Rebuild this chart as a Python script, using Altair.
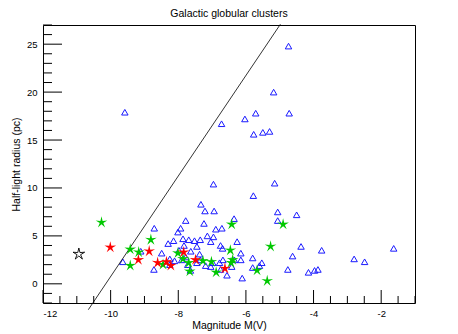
import altair as alt
import pandas as pd

# Blue open triangles (all clusters)
tri_x = [-9.58, -6.72, -4.74, -5.18, -5.71, -4.72, -6.03, -5.77, -5.50, -5.30,
         -6.96, -5.15, -5.78, -7.33, -7.21, -6.94, -7.78, -7.24, -6.35, -8.71,
         -8.01, -6.89, -6.71, -7.93, -7.14, -6.96, -8.14, -7.86, -7.69, -7.52,
         -7.35, -7.04, -6.26, -8.30, -6.75, -8.49, -9.11, -6.15, -5.80, -9.64,
         -8.72, -5.80, -6.56, -6.11, -5.06, -4.50, -5.06, -4.37, -3.76, -1.63,
         -4.62, -2.80, -2.49, -6.15, -6.34, -5.53, -5.60, -4.76, -4.15, -3.97,
         -3.87, -7.83, -7.45, -7.98, -7.63, -6.69, -7.37, -8.25, -8.11, -7.90,
         -7.78, -7.35, -6.68, -6.78, -7.19, -7.04, -6.42, -6.98, -6.75, -7.64,
         -7.45, -7.72, -8.25]
tri_y = [17.9, 16.7, 24.8, 20.0, 17.8, 17.8, 17.2, 15.6, 15.8, 15.9,
         10.4, 10.5, 9.2, 8.3, 7.6, 7.6, 6.6, 6.3, 6.8, 5.8,
         5.4, 5.7, 5.8, 5.8, 5.0, 4.9, 4.5, 4.7, 4.6, 4.5,
         4.6, 4.4, 4.4, 4.2, 4.0, 3.2, 3.4, 3.2, 2.7, 2.3,
         1.5, 1.7, 0.9, 0.6, 7.5, 7.2, 6.6, 3.9, 3.5, 3.7,
         2.9, 2.6, 2.3, 2.5, 2.5, 2.2, 1.9, 1.5, 1.2, 1.4,
         1.5, 4.0, 3.9, 3.5, 3.4, 3.7, 3.1, 2.6, 2.4, 2.5,
         2.8, 2.5, 2.5, 2.2, 1.9, 1.8, 1.8, 2.2, 1.5, 1.4,
         2.2, 2.0, 2.0]

# Red stars
red_x = [-10.01, -9.18, -8.86, -8.61, -8.35, -8.22, -7.84, -7.49, -6.62]
red_y = [3.8, 2.5, 3.4, 2.2, 2.3, 1.9, 3.3, 2.5, 1.6]

# Green stars
green_x = [-10.27, -6.42, -8.81, -9.42, -9.17, -9.42, -8.45, -7.66, -6.88, -6.46,
           -5.67, -4.90, -5.27, -6.44, -5.37, -8.01, -7.86, -7.69, -7.27, -7.02,
           -6.39]
green_y = [6.4, 6.2, 4.6, 3.6, 3.3, 1.9, 2.0, 1.3, 1.2, 3.5,
           1.4, 6.2, 3.9, 2.2, 0.3, 3.2, 2.6, 2.2, 2.4, 2.3,
           2.5]

# Black star
black_x = [-10.94]
black_y = [3.1]

# Diagonal line
line_x = [-10.66, -4.98]
line_y = [-2.7, 27.08]

# Tick values
x_major = [-12, -10, -8, -6, -4, -2]
x_minor = [v / 2 for v in range(-23, -1) if v % 4 != 0]
y_major = [0, 5, 10, 15, 20, 25]
y_minor = [v for v in range(-2, 28) if v % 5 != 0]

FONT = "Liberation Sans"
W, H = 372, 278

xs = alt.Scale(domain=[-12, -1], nice=False, zero=False)
ys = alt.Scale(domain=[-2, 27], nice=False, zero=False)

xaxis = alt.Axis(values=x_major, labelExpr="'' + datum.value", ticks=False, domain=False,
                 grid=False, labelFont=FONT, labelFontSize=9.5, labelColor="black",
                 labelPadding=5, labelFlush=True, title="Magnitude M(V)", titleFont=FONT,
                 titleFontSize=10.5, titleFontWeight="normal", titleColor="black",
                 titlePadding=3)
yaxis = alt.Axis(values=y_major, labelExpr="'' + datum.value", ticks=False, domain=False,
                 grid=False, labelFont=FONT, labelFontSize=9.5, labelColor="black",
                 labelPadding=6, title="Half-light radius (pc)", titleFont=FONT,
                 titleFontSize=10.5, titleFontWeight="normal", titleColor="black",
                 titlePadding=5)

star = ("M0,-1L0.18,-0.25L0.951,-0.309L0.29,0.095L0.588,0.809L0,0.31"
        "L-0.588,0.809L-0.29,0.095L-0.951,-0.309L-0.18,-0.25Z")

X = alt.X("x:Q", scale=xs, axis=xaxis)
Y = alt.Y("y:Q", scale=ys, axis=yaxis)

tri = alt.Chart(pd.DataFrame({"x": tri_x, "y": tri_y})).mark_point(
    shape="triangle-up", filled=False, color="#1a1aff", size=42, strokeWidth=1, opacity=1
).encode(x=X, y=Y)

def stars(xv, yv, color, filled):
    return alt.Chart(pd.DataFrame({"x": xv, "y": yv})).mark_point(
        shape=star, filled=filled, color=color, size=150, strokeWidth=0.6 if filled else 0.9,
        opacity=1, clip=False
    ).encode(x=X, y=Y)

red = stars(red_x, red_y, "#ff0000", True)
green = stars(green_x, green_y, "#00c800", True)
black = stars(black_x, black_y, "#000000", False)

line = alt.Chart(pd.DataFrame({"x": line_x, "y": line_y})).mark_line(
    color="black", strokeWidth=0.8, clip=False
).encode(x=X, y=Y)

def xticks(vals, length):
    return alt.Chart(pd.DataFrame({"x": vals})).mark_rule(color="black", strokeWidth=1).encode(
        x=X, y=alt.value(H), y2=alt.value(H - length))

def yticks(vals, length):
    return alt.Chart(pd.DataFrame({"y": vals})).mark_rule(color="black", strokeWidth=1).encode(
        y=Y, x=alt.value(0), x2=alt.value(length))

chart = alt.layer(
    tri, xticks(x_major, 13), xticks(x_minor, 7), yticks(y_major, 19), yticks(y_minor, 9),
    line, black, green, red
).properties(
    width=W, height=H,
    title=alt.TitleParams("Galactic globular clusters", font=FONT, fontSize=10.5,
                          fontWeight="normal", color="black", anchor="middle", offset=3),
    autosize=alt.AutoSizeParams(type="none"),
    padding={"left": 35, "top": 17, "right": 35, "bottom": 31},
).configure_view(stroke="black", strokeWidth=1)

chart.save("out.html", embed_options={"renderer": "svg", "actions": False})
